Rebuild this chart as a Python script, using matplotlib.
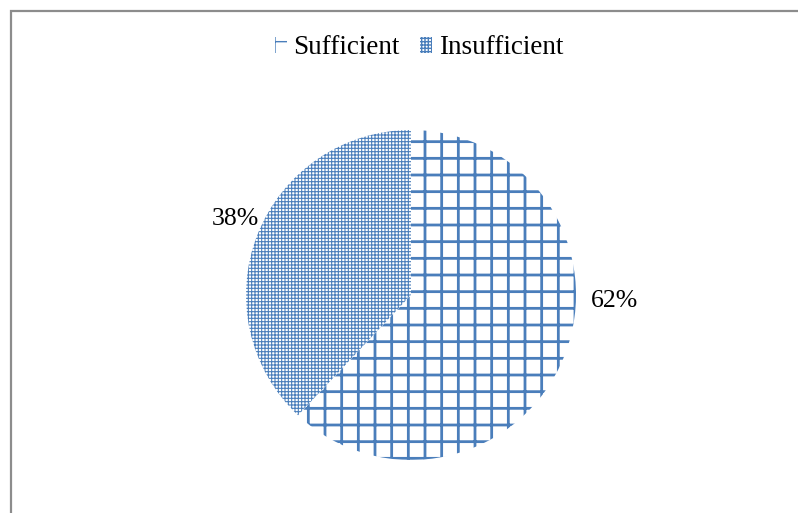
import matplotlib
matplotlib.use("Agg")
import matplotlib.pyplot as plt
from matplotlib.patches import Rectangle

categories = ["Sufficient", "Insufficient"]
values = [62, 38]
hatches = ["+", "+++++"]
hatch_lw = [2.0, 0.8]
blue = "#4a7ebb"

plt.rcParams["font.family"] = ["Liberation Serif", "DejaVu Serif"]
plt.rcParams["hatch.color"] = blue

W, H = 798, 513
fig = plt.figure(figsize=(W / 100, H / 100), dpi=100)

# border
fig.patches.append(Rectangle((10.5 / W, -0.1), 1.2, 1 - 11.5 / H + 0.1,
                             transform=fig.transFigure, fill=False,
                             edgecolor="#8c8c8c", linewidth=1.6))

cx, cy, r = 411, 295, 165
ax = fig.add_axes([(cx - r) / W, (H - cy - r) / H, 2 * r / W, 2 * r / H])
wedges, _ = ax.pie(values, startangle=90, counterclock=False, radius=1,
                   wedgeprops=dict(facecolor="white", edgecolor=blue, linewidth=0))
for w, h, lw in zip(wedges, hatches, hatch_lw):
    w.set_hatch(h)
    try:
        w.set_hatch_linewidth(lw)
    except AttributeError:
        pass
ax.set_xlim(-1, 1)
ax.set_ylim(-1, 1)
ax.set_aspect("equal")
ax.axis("off")

# labels
fig.text(615 / W, 1 - 301 / H, f"{values[0]}%", ha="center", va="center", fontsize=18.5)
fig.text(235 / W, 1 - 219 / H, f"{values[1]}%", ha="center", va="center", fontsize=18.5)

leg = fig.legend(wedges, categories, loc="center", bbox_to_anchor=(419 / W, 1 - 48 / H),
                 ncol=2, frameon=False, fontsize=19.5, handlelength=0.45,
                 handleheight=0.5, handletextpad=0.25, columnspacing=0.75)

fig.savefig("out.png", dpi=100)
